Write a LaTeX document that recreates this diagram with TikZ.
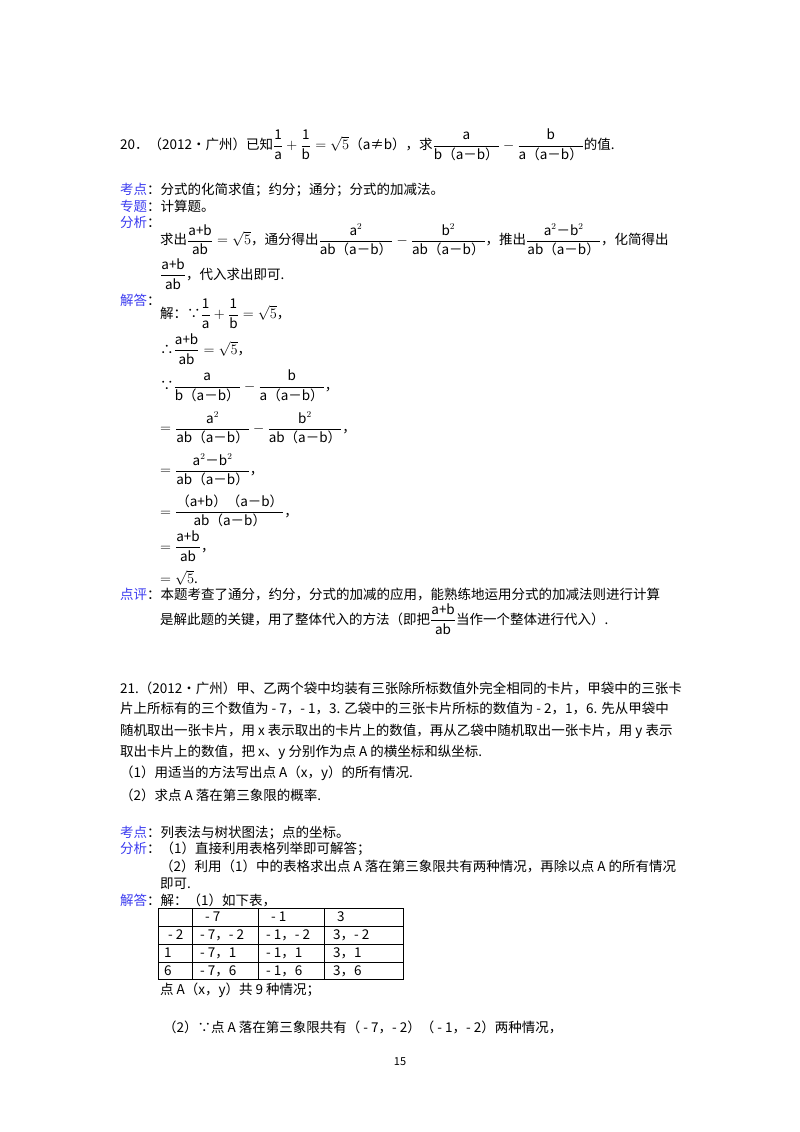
\documentclass[tikz,border=0pt]{standalone}
\usepackage{amsmath}
\usepackage{fontspec}
\setmainfont{Noto Sans CJK SC}
\definecolor{lbl}{RGB}{60,60,240}
\newcommand\fs{\fontsize{13.5}{16}\selectfont}
\newcommand\fr[2]{\dfrac{\text{#1}}{\text{#2}}}
\newcommand\lb[1]{{\color{lbl}#1}：}
\tikzset{t/.style={anchor=west,inner sep=0pt,font=\fs}}
\begin{document}
\begin{tikzpicture}[x=1pt,y=-1pt]
\useasboundingbox[fill=white] (0,0) rectangle (800,1132);
\node[t] (p20) at (120,145) {20．（2012•广州）已知$\fr{1}{a}+\fr{1}{b}=\sqrt{5}$（a≠b），求$\fr{a}{b（a－b）}-\fr{b}{a（a－b）}$的值.};
\node[t] (kd) at (120,190) {\lb{考点}分式的化简求值；约分；通分；分式的加减法。};
\node[t] (zt) at (120,206) {\lb{专题}计算题。};
\node[t] (fx) at (120,222) {\lb{分析}};
\node[t] (fx1) at (160,240) {求出$\fr{a+b}{ab}=\sqrt{5}$，通分得出$\fr{a$^2$}{ab（a－b）}-\fr{b$^2$}{ab（a－b）}$，推出$\fr{a$^2$－b$^2$}{ab（a－b）}$，化简得出};
\node[t] (fx2) at (160,274) {$\fr{a+b}{ab}$，代入求出即可.};
\node[t] (jd) at (120,300) {\lb{解答}};
\node[t] (s1) at (160,314) {解：∵$\fr{1}{a}+\fr{1}{b}=\sqrt{5}$，};
\node[t] (s2) at (160,349) {∴$\fr{a+b}{ab}=\sqrt{5}$，};
\node[t] (s3) at (160,386) {∵$\fr{a}{b（a－b）}-\fr{b}{a（a－b）}$，};
\node[t] (s4) at (160,428) {$=\fr{a$^2$}{ab（a－b）}-\fr{b$^2$}{ab（a－b）}$，};
\node[t] (s5) at (160,470) {$=\fr{a$^2$－b$^2$}{ab（a－b）}$，};
\node[t] (s6) at (160,511) {$=\fr{（a+b）（a－b）}{ab（a－b）}$，};
\node[t] (s7) at (160,546) {$=\fr{a+b}{ab}$，};
\node[t] (s8) at (160,578) {$=\sqrt{5}$.};
\node[t] (dp) at (120,594) {\lb{点评}本题考查了通分，约分，分式的加减的应用，能熟练地运用分式的加减法则进行计算};
\node[t] (dp2) at (160,619) {是解此题的关键，用了整体代入的方法（即把$\fr{a+b}{ab}$当作一个整体进行代入）.};
\node[t] (q1) at (120,688) {21.（2012•广州）甲、乙两个袋中均装有三张除所标数值外完全相同的卡片，甲袋中的三张卡};
\node[t] (q2) at (120,709) {片上所标有的三个数值为 - 7，- 1，3. 乙袋中的三张卡片所标的数值为 - 2，1，6. 先从甲袋中};
\node[t] (q3) at (120,731) {随机取出一张卡片，用 x 表示取出的卡片上的数值，再从乙袋中随机取出一张卡片，用 y 表示};
\node[t] (q4) at (120,752) {取出卡片上的数值，把 x、y 分别作为点 A 的横坐标和纵坐标.};
\node[t] (q5) at (120,773) {（1）用适当的方法写出点 A（x，y）的所有情况.};
\node[t] (q6) at (120,795) {（2）求点 A 落在第三象限的概率.};
\node[t] (k2) at (120,833) {\lb{考点}列表法与树状图法；点的坐标。};
\node[t] (f2) at (120,849) {\lb{分析}（1）直接利用表格列举即可解答；};
\node[t] (f2b) at (160,866) {（2）利用（1）中的表格求出点 A 落在第三象限共有两种情况，再除以点 A 的所有情况};
\node[t] (f2c) at (160,884) {即可.};
\node[t] (j2) at (120,900) {\lb{解答}解：（1）如下表，};
\draw (158,908) rectangle (403,979);
\foreach \yy in {926,944,962} \draw (158,\yy) -- (403,\yy);
\foreach \xx in {192,258,324} \draw (\xx,908) -- (\xx,979);
\node[t] (c01) at (205,917) {- 7};
\node[t] (c02) at (271,917) {- 1};
\node[t] (c03) at (337,917) {3};
\node[t] (c10) at (168,935) {- 2};
\node[t] (c11) at (200,935) {- 7，- 2};
\node[t] (c12) at (266,935) {- 1，- 2};
\node[t] (c13) at (333,935) {3，- 2};
\node[t] (c20) at (164,953) {1};
\node[t] (c21) at (200,953) {- 7，1};
\node[t] (c22) at (266,953) {- 1，1};
\node[t] (c23) at (333,953) {3，1};
\node[t] (c30) at (164,971) {6};
\node[t] (c31) at (200,971) {- 7，6};
\node[t] (c32) at (266,971) {- 1，6};
\node[t] (c33) at (333,971) {3，6};
\node[t] (n9) at (160,990) {点 A（x，y）共 9 种情况；};
\node[t] (s21) at (163,1027) {（2）∵点 A 落在第三象限共有（ - 7，- 2）（ - 1，- 2）两种情况，};
\node[anchor=center,inner sep=0pt,font=\fontsize{11}{13}\selectfont] (pg) at (400,1062) {15};
\end{tikzpicture}
\end{document}
